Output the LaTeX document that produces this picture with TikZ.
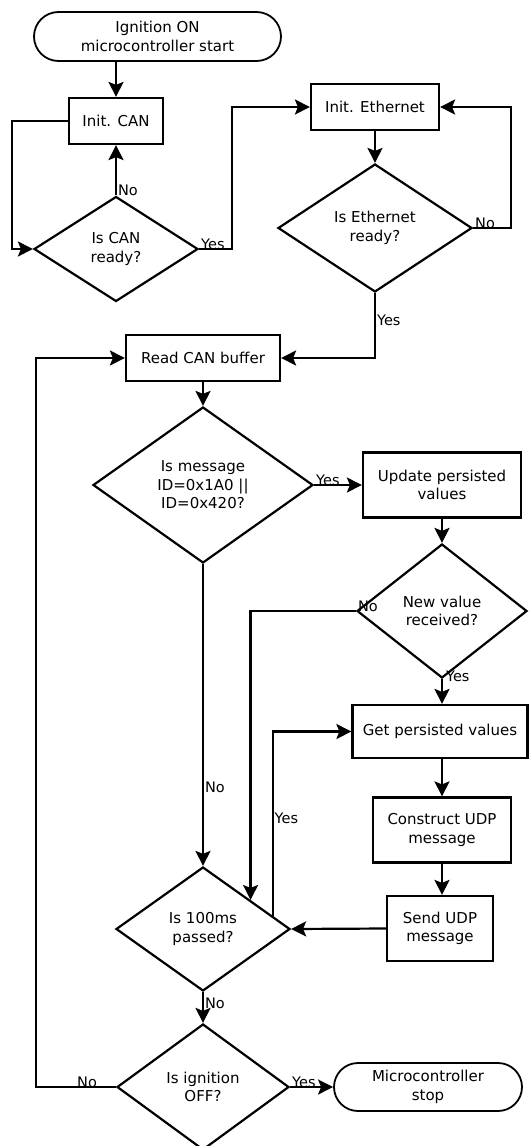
\documentclass[tikz,border=0pt]{standalone}
\usepackage{fontspec}
\setmainfont{DejaVu Sans}
\usetikzlibrary{shapes.geometric,shapes.misc,arrows.meta,calc}
\begin{document}
\begin{tikzpicture}[x=1pt,y=-1pt,
  every node/.style={font=\fontsize{15}{18.5}\selectfont, align=center},
  box/.style={draw, line width=2.2pt, rectangle, inner sep=0pt},
  dec/.style={draw, line width=2.2pt, diamond, inner sep=0pt},
  term/.style={draw, line width=1.8pt, rounded rectangle, inner sep=0pt},
  conn/.style={line width=2.2pt, -{Stealth[length=15pt,width=15pt,inset=3pt]}},
  lbl/.style={inner sep=0pt, font=\fontsize{14.5}{17}\selectfont}]
\useasboundingbox (0,0) rectangle (528,1146);

\node[term, minimum width=247pt, minimum height=49pt] (start) at (157.5,36.5) {Ignition ON\\microcontroller start};
\node[box, minimum width=94pt, minimum height=46pt] (can) at (116,121) {Init. CAN};
\node[dec, minimum width=164pt, minimum height=105pt] (canq) at (116,249) {Is CAN\\ready?};
\node[box, minimum width=128pt, minimum height=46pt] (eth) at (375,107) {Init. Ethernet};
\node[dec, minimum width=194pt, minimum height=128pt] (ethq) at (375,228) {Is Ethernet\\ready?};
\node[box, minimum width=154pt, minimum height=46pt] (read) at (203,358) {Read CAN buffer};
\node[dec, minimum width=220pt, minimum height=156pt] (msgq) at (203,485) {Is message\\ID=0x1A0 ||\\ID=0x420?};
\node[box, minimum width=158pt, minimum height=65pt] (upd) at (442,485) {Update persisted\\values};
\node[dec, minimum width=170pt, minimum height=134pt] (newq) at (442,611) {New value\\received?};
\node[box, minimum width=175pt, minimum height=53pt] (getp) at (440,731.5) {Get persisted values};
\node[box, minimum width=138pt, minimum height=65pt] (con) at (442,830) {Construct UDP\\message};
\node[box, minimum width=106pt, minimum height=65pt] (send) at (440,928.5) {Send UDP\\message};
\node[dec, minimum width=174pt, minimum height=124pt] (tq) at (203,929) {Is 100ms\\passed?};
\node[dec, minimum width=172pt, minimum height=126pt] (ign) at (203,1087) {Is ignition\\OFF?};
\node[term, minimum width=188pt, minimum height=48pt] (stop) at (428,1087) {Microcontroller\\stop};

\coordinate (tqA) at ($(tq.north)!0.54!(tq.east)$);
\coordinate (tqB) at ($(tq.north)!0.79!(tq.east)$);

\draw[conn] (start.south -| can.north) -- (can.north);
\draw[conn] (can.west) -- ++(-56,0) |- (canq.west);
\draw[conn] (canq.north) -- (can.south) node[lbl, pos=0, anchor=base west, xshift=1pt] (l1) {No};
\draw[conn] (canq.east) -- ++(33,0) node[lbl, pos=0, anchor=base west, xshift=1pt] (l2) {Yes} |- (eth.west);
\draw[conn] (eth.south) -- (ethq.north);
\draw[conn] (ethq.east) -- ++(38,0) node[lbl, pos=0, anchor=base west, xshift=1pt] (l3) {No} |- (eth.east);
\draw[conn] (ethq.south) |- (read.east) node[lbl, pos=0.21, anchor=west, xshift=1pt] (l4) {Yes};
\draw[conn] (read.south) -- (msgq.north);
\draw[conn] (msgq.east) -- (upd.west) node[lbl, pos=0, anchor=base west, xshift=1pt] (l5) {Yes};
\draw[conn] (upd.south) -- (newq.north);
\draw[conn] (newq.west) -| (tqA) node[lbl, pos=0, anchor=base west, xshift=1pt] (l6) {No};
\draw[conn] (newq.south) -- (getp.north -| newq.south) node[lbl, pos=0, anchor=base west, xshift=3pt, yshift=-2pt] (l7) {Yes};
\draw[conn] (getp.south -| con.north) -- (con.north);
\draw[conn] (con.south) -- (send.north -| con.south);
\draw[conn] (send.west) -- (tq.east);
\draw[conn] (msgq.south) -- (tq.north) node[lbl, pos=0.74, anchor=west, xshift=1pt] (l8) {No};
\draw[conn] (tqB) |- (getp.west) node[lbl, pos=0.265, anchor=west, xshift=1pt] (l9) {Yes};
\draw[conn] (tq.south) -- (ign.north) node[lbl, pos=0.36, anchor=west, xshift=1pt] (l10) {No};
\draw[conn] (ign.west) -- ++(-80,0) node[lbl, pos=0.36, anchor=base] (l11) {No} |- (read.west);
\draw[conn] (ign.east) -- (stop.west) node[lbl, pos=0, anchor=base west, xshift=1pt] (l12) {Yes};
\end{tikzpicture}
\end{document}
